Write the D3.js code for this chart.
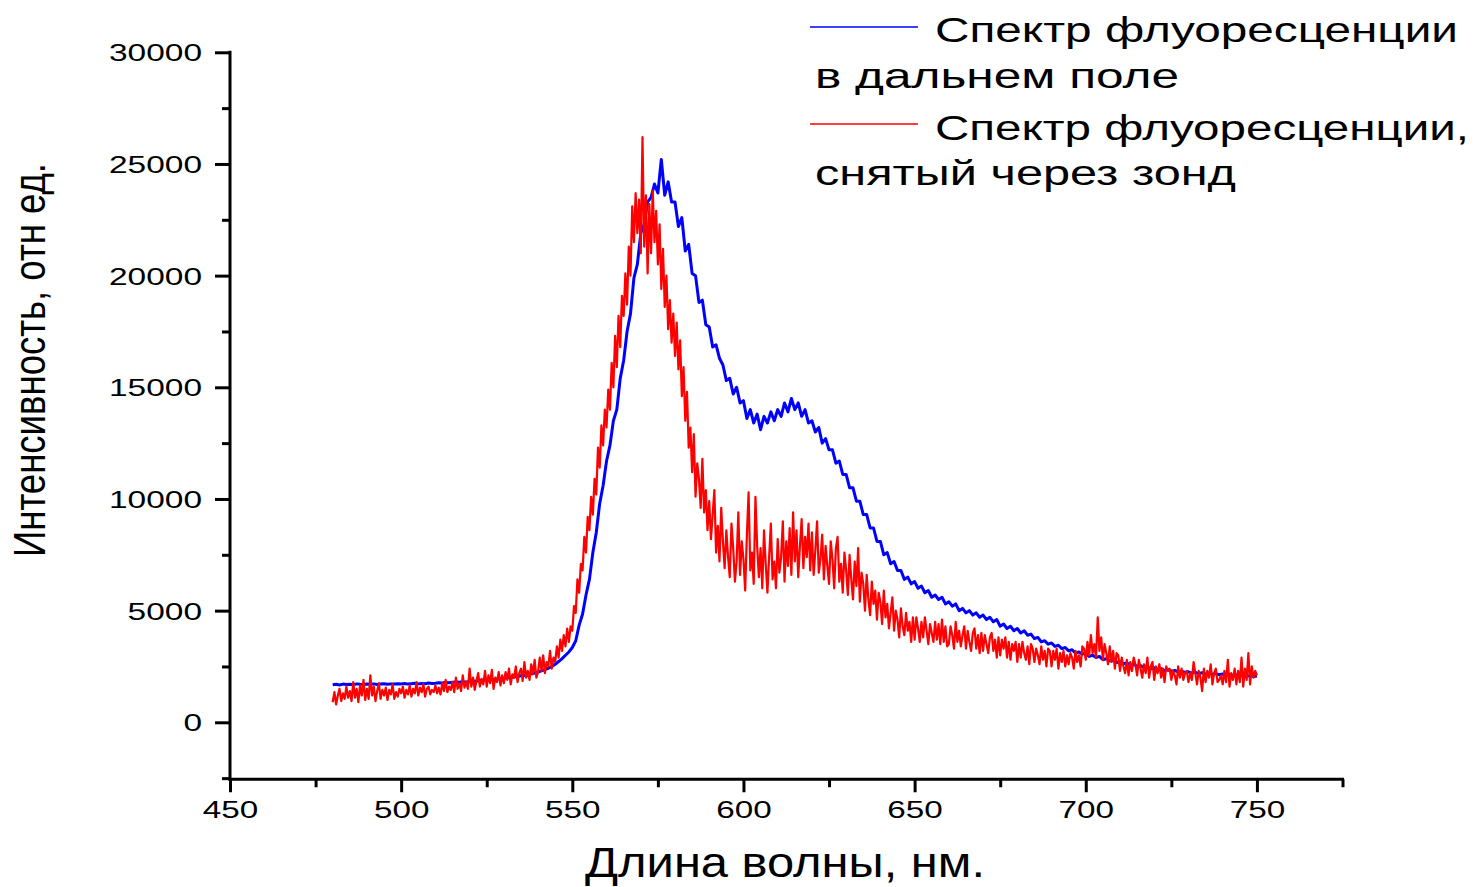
<!DOCTYPE html>
<html>
<head>
<meta charset="utf-8">
<script src="https://cdn.jsdelivr.net/npm/d3@7"></script>
<style>
  html, body { margin: 0; padding: 0; background: #fff; }
  svg { display: block; }
  text { font-family: "Liberation Sans", Arial, sans-serif; fill: #000; }
</style>
</head>
<body>
<svg id="chart" width="1476" height="887"></svg>
<script>
// ---------- data ----------
const xTickValues = [450, 500, 550, 600, 650, 700, 750];
const yTickValues = [0, 5000, 10000, 15000, 20000, 25000, 30000];
const xLabel = "Длина волны, нм.";
const yLabel = "Интенсивность, отн ед.";
const seriesNames = [
  ["Спектр флуоресценции", "в дальнем поле"],
  ["Спектр флуоресценции,", "снятый через зонд"]
];

// far-field spectrum: 480..750 nm, 1 nm step
const blueStart = 480, blueStep = 1;
const blueIntensity = [
  1680,1700,1670,1710,1690,1700,1680,1720,1700,1690,
  1710,1700,1720,1690,1710,1730,1700,1720,1710,1730,
  1720,1740,1710,1730,1750,1720,1740,1730,1760,1740,
  1750,1770,1760,1780,1770,1790,1800,1790,1820,1810,
  1830,1850,1840,1870,1880,1900,1890,1920,1940,1950,
  1970,1990,2010,2030,2050,2080,2100,2140,2170,2210,
  2250,2300,2360,2420,2500,2600,2720,2850,3000,3150,
  3350,3650,4350,4850,5700,6400,7600,8500,9800,10600,
  11700,12400,13500,14000,15400,16200,17500,18300,19900,20500,
  21900,22300,23300,23500,24100,23700,25200,23600,24200,23300,
  23300,22200,22600,21100,21400,20100,20000,18800,18900,17800,
  17700,16800,16900,16300,16000,15300,15400,14700,15000,14300,
  14400,13600,14000,13400,13800,13100,13700,13400,13900,13500,
  14000,13700,14300,13900,14500,14000,14300,13700,14000,13400,
  13500,13000,13200,12500,12700,12200,12200,11600,11700,11100,
  11100,10500,10500,9900,9900,9300,9300,8700,8700,8100,
  8100,7500,7600,7100,7200,6800,6800,6400,6500,6200,
  6300,6000,6100,5800,5900,5600,5700,5500,5600,5300,
  5400,5200,5300,5000,5100,4900,5000,4800,4900,4700,
  4800,4600,4700,4500,4600,4300,4400,4200,4300,4100,
  4200,4000,4100,3900,3950,3750,3800,3600,3650,3500,
  3550,3400,3450,3300,3350,3200,3250,3100,3150,3050,
  3100,2950,3000,2900,2950,2800,2850,2750,2780,2680,
  2720,2620,2660,2560,2600,2500,2540,2450,2490,2400,
  2440,2360,2400,2320,2360,2290,2320,2260,2290,2230,
  2260,2200,2240,2180,2220,2160,2200,2150,2180,2130,
  2160,2110,2140,2090,2120,2070,2100,2060,2090,2050,
  2070
];

// probe spectrum: 480..750 nm, 0.5 nm step
const redStart = 480, redStep = 0.5;
const redIntensity = [
  900,1350,800,1200,1500,950,1300,1050,1600,1100,
  1400,950,1800,1100,1500,900,1650,1200,1900,1000,
  1500,1050,2100,1200,1600,950,1400,1750,1050,1450,
  1200,1550,1000,1450,1250,1700,1050,1350,1150,1500,
  1300,1600,1100,1450,1250,1650,1150,1500,1300,1800,
  1200,1550,1350,1700,1150,1500,1600,1250,1450,1350,
  1650,1300,1550,1250,1750,1400,1900,1350,1600,1450,
  1800,1350,2000,1500,1750,1400,2100,1550,1800,1500,
  2400,1600,2000,1450,1850,2200,1600,1950,1700,2300,
  1600,2100,1750,2350,1500,2000,1800,2250,1650,2100,
  1750,2250,1900,2400,1700,2150,2000,2500,1800,2200,
  2400,1850,2700,2000,2300,1900,2600,2150,2800,2000,
  2250,2900,2300,3000,2200,2700,2500,3200,2400,2900,
  2700,3400,2900,3700,3200,3900,3400,4200,3600,4300,
  4100,5200,4900,6400,5800,7100,6800,8300,7600,9200,
  8600,10100,9300,10900,10200,12300,11400,13300,12400,14000,
  13200,14900,14000,16100,15000,17300,15900,18200,16800,19100,
  18200,20100,18700,21300,20000,23100,21500,23700,21900,23400,
  21000,26200,21300,23600,20100,23200,21000,23800,21500,22900,
  20500,22300,19400,21200,18600,20000,17600,18900,17000,18300,
  16400,17900,15800,17100,14600,15900,13500,14800,12300,13200,
  11200,12900,10100,11600,10900,9600,11800,9400,10400,8600,
  9900,8200,9300,10400,7600,8800,7200,9600,8100,6900,
  8600,7400,6500,8900,7800,6300,7200,9400,6600,8100,
  7300,5900,8400,10300,6800,7600,6200,10100,7900,6500,
  7800,6000,8600,7100,5800,7400,8900,6400,7200,6000,
  8200,6700,7400,9000,6300,8100,7000,8700,6600,9400,
  7200,8600,6500,7900,9100,6900,8300,7400,8900,6800,
  8500,6600,7700,9000,6700,7300,8400,6400,7900,7000,
  6200,8100,7300,6000,7800,8300,6300,7100,5800,7600,
  6800,5700,7500,6400,5500,7200,6100,7800,5400,6700,
  6200,5000,6600,5500,4800,6300,5300,5900,4600,5800,
  5400,4400,5900,4700,5300,4200,4900,5600,4100,5000,
  4600,3800,5100,4300,3900,4900,4100,4500,3600,4700,
  3700,4700,4200,3600,4500,3800,4700,4100,3500,4400,
  4000,3600,4500,3700,4400,3500,4600,3600,4300,3400,
  3500,4300,3900,3300,4500,3600,4100,3400,3900,4300,
  3300,4100,3600,3200,4000,4200,3300,3900,3100,4000,
  3200,3900,3500,3100,3800,4000,3200,3700,2900,3800,
  3000,3700,3300,3800,2900,3600,2800,3500,3200,3600,
  2700,3500,2900,3600,3100,2800,3400,2600,3500,3300,
  2700,3300,3000,2600,3400,2800,3200,2500,3300,3200,
  2500,3200,2800,3300,2400,3100,2700,3200,2500,3000,
  2600,3100,2900,2400,3200,2700,3000,2500,3400,3300,
  2800,3600,3000,3900,3100,3500,2900,4700,3200,3800,
  2800,3500,3100,2600,3400,2700,3200,2400,3100,3000,
  2300,2900,2500,2200,2800,2100,2700,2300,2900,2600,
  2100,2800,2400,2000,2600,2200,2900,2000,2500,2700,
  1900,2500,2200,2600,2000,2400,1800,2500,2300,2400,
  1900,2300,2100,1700,2500,2000,2400,1900,2200,2300,
  1800,2200,1900,2700,2200,1700,2300,2000,1400,2400,
  1800,2300,2000,2600,1700,2200,2400,1800,1900,2100,
  1700,2300,1800,2800,1600,2200,1900,2400,1700,2300,
  1800,2900,1600,2400,1900,3100,1700,2500,2000,2300,
  2100
];

// ---------- chart ----------
const svg = d3.select("#chart");
const x = d3.scaleLinear().domain([450, 775]).range([230, 1342.5]);
const y = d3.scaleLinear().domain([0, 30000]).range([722.3, 52.3]);
const yMin = -2550;
const axisY = y(yMin);

const font = '"Liberation Sans", Arial, sans-serif';

function seriesPoints(start, step, vals) {
  return vals.map((v, i) => [start + i * step, v]);
}
const blueData = seriesPoints(blueStart, blueStep, blueIntensity);
const redData = seriesPoints(redStart, redStep, redIntensity);

const line = d3.line().x(d => x(d[0])).y(d => y(d[1]));

svg.append("path").datum(blueData)
  .attr("d", line).attr("fill", "none")
  .attr("stroke", "#0000ff").attr("stroke-width", 3).attr("stroke-linejoin", "round");
svg.append("path").datum(redData)
  .attr("d", line).attr("fill", "none")
  .attr("stroke", "#ff0000").attr("stroke-width", 2.2).attr("stroke-linejoin", "round");

// axes
const xAxisG = svg.append("g").attr("transform", `translate(0,${axisY})`);
const xMinor = d3.range(475, 776, 50);
xAxisG.append("g").call(
  d3.axisBottom(x).tickValues(xMinor).tickSize(8).tickFormat(""))
  .call(g => g.select(".domain").remove());
xAxisG.append("g").call(
  d3.axisBottom(x).tickValues(xTickValues).tickSize(13).tickSizeOuter(0).tickPadding(9)
    .tickFormat(d3.format("d")))
  .call(g => g.select(".domain").remove());
xAxisG.selectAll("line").attr("stroke", "#000").attr("stroke-width", 3);
xAxisG.selectAll("text")
  .attr("font-size", 24).attr("font-family", font).attr("fill", "#000")
  .attr("dy", "0.71em")
  .attr("textLength", 55.5).attr("lengthAdjust", "spacingAndGlyphs");
svg.append("line")
  .attr("x1", x(450) - 1.5).attr("x2", x(775) + 1.5)
  .attr("y1", axisY).attr("y2", axisY)
  .attr("stroke", "#000").attr("stroke-width", 3);

const yAxisG = svg.append("g").attr("transform", `translate(${x(450)},0)`);
const yMinor = d3.range(-2500, 30000, 5000);
yAxisG.append("g").call(
  d3.axisLeft(y).tickValues(yMinor).tickSize(8).tickFormat(""))
  .call(g => g.select(".domain").remove());
yAxisG.append("g").call(
  d3.axisLeft(y).tickValues(yTickValues).tickSize(15).tickPadding(13)
    .tickFormat(d3.format("d")))
  .call(g => g.select(".domain").remove());
yAxisG.selectAll("line").attr("stroke", "#000").attr("stroke-width", 3);
yAxisG.selectAll("text")
  .attr("font-size", 24).attr("font-family", font).attr("fill", "#000")
  .attr("dy", "0.36em")
  .each(function(d) {
    const s = String(d);
    d3.select(this).attr("textLength", s.length * 18.6).attr("lengthAdjust", "spacingAndGlyphs");
  });
svg.append("line")
  .attr("x1", x(450)).attr("x2", x(450))
  .attr("y1", y(30000) - 1.5).attr("y2", axisY + 1.5)
  .attr("stroke", "#000").attr("stroke-width", 3);

// axis titles
svg.append("text")
  .attr("x", 785).attr("y", 877)
  .attr("text-anchor", "middle")
  .attr("font-size", 42).attr("font-family", font)
  .attr("textLength", 400).attr("lengthAdjust", "spacingAndGlyphs")
  .text(xLabel);
svg.append("text")
  .attr("transform", "translate(45,360) rotate(-90)")
  .attr("text-anchor", "middle")
  .attr("font-size", 44).attr("font-family", font)
  .attr("textLength", 394).attr("lengthAdjust", "spacingAndGlyphs")
  .text(yLabel);

// legend
const legendColors = ["#0000ff", "#ff0000"];
const legendRows = [
  { lineY: 27, base1: 42, base2: 88, w1: 523, w2: 364 },
  { lineY: 124, base1: 140, base2: 185, w1: 534, w2: 421 }
];
legendRows.forEach((r, i) => {
  svg.append("line")
    .attr("x1", 810).attr("x2", 918).attr("y1", r.lineY).attr("y2", r.lineY)
    .attr("stroke", legendColors[i]).attr("stroke-width", 1.5);
  svg.append("text")
    .attr("x", 935).attr("y", r.base1)
    .attr("font-size", 35).attr("font-family", font)
    .attr("textLength", r.w1).attr("lengthAdjust", "spacingAndGlyphs")
    .text(seriesNames[i][0]);
  svg.append("text")
    .attr("x", 815).attr("y", r.base2)
    .attr("font-size", 35).attr("font-family", font)
    .attr("textLength", r.w2).attr("lengthAdjust", "spacingAndGlyphs")
    .text(seriesNames[i][1]);
});
</script>
</body>
</html>
